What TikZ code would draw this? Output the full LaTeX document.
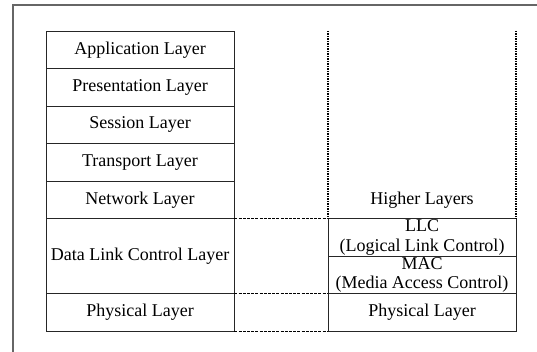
\documentclass[tikz,border=0pt]{standalone}
\usepackage{fontspec}
\setmainfont{Liberation Serif}
\begin{document}
\begin{tikzpicture}[x=1pt,y=-1pt,
  layer/.style={draw=black!85, line width=0.9pt, minimum width=188pt, inner sep=0pt,
    align=center, font=\fontsize{18}{19.5}\selectfont},
  region/.style={draw=none, minimum width=188pt, minimum height=187.5pt, inner sep=0pt},
  plain/.style={inner sep=0pt, font=\fontsize{18}{19.5}\selectfont},
  dotline/.style={line width=1.8pt, dash pattern=on 1.4pt off 1.1pt},
  dashline/.style={line width=1pt, dash pattern=on 3pt off 1.2pt},
  frame/.style={draw=black!60, line width=1.3pt}]
\clip (0,0) rectangle (537,352);
\fill[white] (0,0) rectangle (537,352);
\draw[frame] (13,400) -- (13,5) -- (600,5);
% left stack
\node[layer, minimum height=37.5pt] (app) at (140,49.75) {Application Layer};
\node[layer, minimum height=37.5pt] (pres) at (140,87.25) {Presentation Layer};
\node[layer, minimum height=37.5pt] (sess) at (140,124.75) {Session Layer};
\node[layer, minimum height=37.5pt] (trans) at (140,162.25) {Transport Layer};
\node[layer, minimum height=37.5pt] (net) at (140,199.75) {Network Layer};
\node[layer, minimum height=75pt] (dlc) at (140,256) {Data Link Control Layer};
\node[layer, minimum height=37.5pt] (phys) at (140,312.25) {Physical Layer};
% right stack
\node[region] (higher) at (422,124.75) {};
\node[plain] (hltext) at (422,200) {Higher Layers};
\node[layer, minimum height=37.5pt] (llc) at (422,237.25) {LLC\\(Logical Link Control)};
\node[layer, minimum height=37.5pt] (mac) at (422,274.75) {MAC\\(Media Access Control)};
\node[layer, minimum height=37.5pt] (phys2) at (422,312.25) {Physical Layer};
% dotted sides
\draw[dotline] (higher.north west) -- (higher.south west);
\draw[dotline] (higher.north east) -- (higher.south east);
% dashed links
\draw[dashline] (dlc.north east) -- (llc.north west);
\draw[dashline] (dlc.south east) -- (mac.south west);
\draw[dashline] (phys.south east) -- (phys2.south west);
\end{tikzpicture}
\end{document}
